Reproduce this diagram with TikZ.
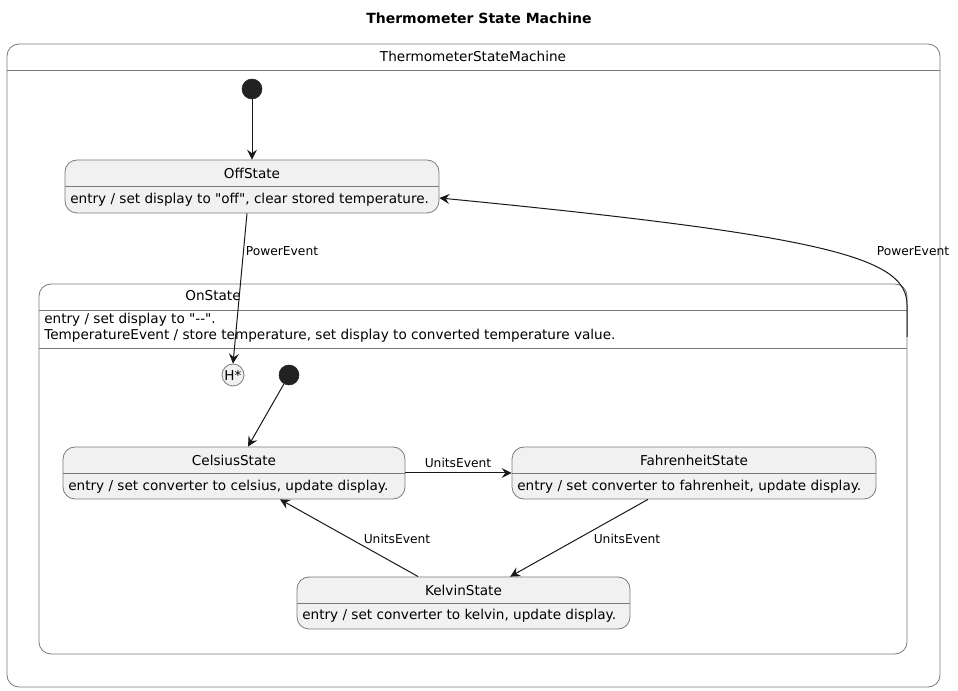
\documentclass[tikz,border=0pt]{standalone}
\usepackage{fontspec}
\setmainfont{DejaVu Sans}
\usetikzlibrary{arrows.meta}
\definecolor{boxfill}{HTML}{F1F1F1}
\definecolor{bordercol}{HTML}{7A7A7A}
\definecolor{arrowcol}{HTML}{181818}
\definecolor{dotcol}{HTML}{222222}
\begin{document}
\begin{tikzpicture}[x=0.75pt,y=-0.75pt,
  box/.style={draw=bordercol, fill=boxfill, line width=0.6pt, rounded corners=9pt, inner sep=0pt},
  cont/.style={draw=bordercol, line width=0.6pt, rounded corners=9pt, inner sep=0pt},
  divline/.style={draw=bordercol, line width=0.6pt},
  ttl/.style={font=\fontsize{10.2}{12.2}\selectfont, inner sep=0pt},
  body/.style={font=\fontsize{10.2}{12}\selectfont, inner sep=0pt, anchor=west},
  lbl/.style={font=\fontsize{9.2}{11}\selectfont, inner sep=0pt},
  dot/.style={circle, fill=dotcol, draw=dotcol, minimum size=15pt, inner sep=0pt},
  hist/.style={circle, fill=boxfill, draw=bordercol, line width=0.6pt, minimum size=16.5pt, inner sep=0pt, font=\fontsize{10.2}{12}\selectfont},
  arr/.style={draw=arrowcol, line width=0.75pt, -{Stealth[length=7.5pt,width=7.5pt,inset=2.8pt]}}]
\useasboundingbox (0,0) rectangle (958,691);

% title
\node[font=\bfseries\fontsize{10.5}{12}\selectfont, inner sep=0pt] (title) at (479,18) {Thermometer State Machine};

% outer container
\node[cont, minimum width=933*0.75pt, minimum height=643*0.75pt] (outer) at (473.5,365.5) {};
\draw[divline] (7,70) -- (940,70);
\node[ttl] (outerttl) at (473,56) {ThermometerStateMachine};

% initial state 1
\node[dot] (init1) at (252,89) {};

% OffState
\node[box, minimum width=374*0.75pt, minimum height=53*0.75pt] (off) at (252,186.5) {};
\draw[divline] (65,186) -- (439,186);
\node[ttl] (offttl) at (252,173) {OffState};
\node[body] (offbody) at (70,200) {entry / set display to \textquotedbl off\textquotedbl, clear stored temperature.};

% OnState container
\node[cont, minimum width=868*0.75pt, minimum height=370*0.75pt] (on) at (473,469) {};
\draw[divline] (39,310) -- (907,310);
\draw[divline] (39,348) -- (907,348);
\node[ttl] (onttl) at (213,296) {OnState};
\node[body] (onbody1) at (44,320) {entry / set display to \textquotedbl-{}-\textquotedbl.};
\node[body] (onbody2) at (44,336) {TemperatureEvent / store temperature, set display to converted temperature value.};

% history and initial 2
\node[hist] (hist) at (233,375) {H*};
\node[dot] (init2) at (289,375) {};

% CelsiusState
\node[box, minimum width=342*0.75pt, minimum height=52*0.75pt] (cel) at (234,473) {};
\draw[divline] (63,473) -- (405,473);
\node[ttl] (celttl) at (234,460) {CelsiusState};
\node[body] (celbody) at (68,487) {entry / set converter to celsius, update display.};

% FahrenheitState
\node[box, minimum width=364*0.75pt, minimum height=52*0.75pt] (fah) at (694,473) {};
\draw[divline] (512,473) -- (876,473);
\node[ttl] (fahttl) at (694,460) {FahrenheitState};
\node[body] (fahbody) at (517,487) {entry / set converter to fahrenheit, update display.};

% KelvinState
\node[box, minimum width=333*0.75pt, minimum height=52*0.75pt] (kel) at (463.5,603) {};
\draw[divline] (297,603) -- (630,603);
\node[ttl] (kelttl) at (463.5,590) {KelvinState};
\node[body] (kelbody) at (302,616) {entry / set converter to kelvin, update display.};

% transitions
\draw[arr] (init1) -- (off.north);
\draw[arr] ([xshift=-3.75pt]off.south) -- (hist.north);
\node[lbl] (lp1) at (282,251) {PowerEvent};

\draw[arr] (init2) -- ([xshift=10.5pt]cel.north);

\draw[arr] (cel.east) -- (fah.west);
\node[lbl] (lu1) at (458,463) {UnitsEvent};

\draw[arr] ([xshift=-34.5pt]fah.south) -- ([xshift=35pt]kel.north);
\node[lbl] (lu2) at (627,539) {UnitsEvent};

\draw[arr] ([xshift=-34pt]kel.north) -- ([xshift=34.5pt]cel.south);
\node[lbl] (lu3) at (397,539) {UnitsEvent};

\coordinate (pwstart) at (907,337);
\draw[arr] (pwstart) -- (907,305) .. controls (907,258) and (830,236) .. ([yshift=-8.6pt]off.east);
\node[lbl] (lp2) at (913,251) {PowerEvent};
\end{tikzpicture}
\end{document}
